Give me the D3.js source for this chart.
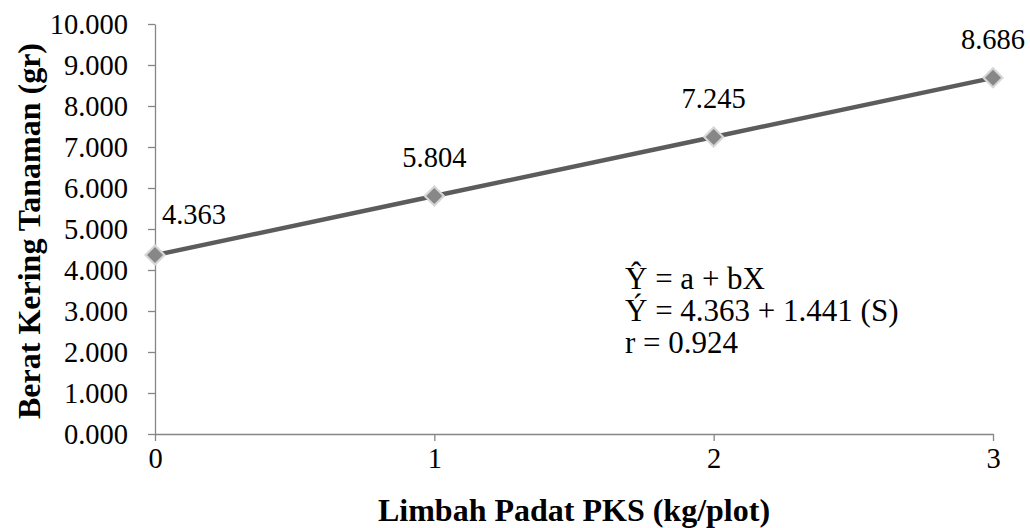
<!DOCTYPE html>
<meta charset="utf-8">
<title>Berat Kering Tanaman</title>
<style>
body { margin: 0; background: #fff; }
svg { font-family: 'Liberation Serif', 'Times New Roman', serif; }
.axis path, .axis line { stroke: #868686; stroke-width: 1.3px; }
.axis text { font-size: 28.5px; fill: #000; font-family: 'Liberation Serif', 'Times New Roman', serif; }
.title { font-size: 32px; font-weight: bold; }
.lbl { font-size: 28.5px; }
.eq { font-size: 31px; }
</style>
<svg width="1030" height="528"></svg>
<script src="https://d3js.org/d3.v7.min.js"></script>
<script>

var dosis = [0, 1, 2, 3];
var berat = [4.363, 5.804, 7.245, 8.686];
var yTicks = d3.range(0, 11);
var persamaan = ["\u0176 = a + bX", "\u00DD = 4.363 + 1.441 (S)", "r = 0.924"];

var svg = d3.select("svg"),
    margin = {top: 24, right: 37, bottom: 94, left: 155},
    width = 1030 - margin.left - margin.right,
    height = 528 - margin.top - margin.bottom;

var g = svg.append("g").attr("transform", "translate(" + margin.left + "," + margin.top + ")");

var x = d3.scaleLinear().domain([0, 3]).range([0, width]);
var y = d3.scaleLinear().domain([0, 10]).range([height, 0]);

g.append("g")
  .attr("class", "axis")
  .attr("transform", "translate(0," + height + ")")
  .call(d3.axisBottom(x).tickValues(dosis).tickFormat(d3.format("d")).tickSize(7).tickSizeOuter(0).tickPadding(7));

g.append("g")
  .attr("class", "axis")
  .call(d3.axisLeft(y).tickValues(yTicks).tickFormat(d3.format(".3f")).tickSize(7).tickSizeOuter(0).tickPadding(20));

var data = dosis.map(function(d, i) { return {x: d, y: berat[i]}; });

g.append("path")
  .datum(data)
  .attr("fill", "none")
  .attr("stroke", "#5c5c5c")
  .attr("stroke-width", 4.5)
  .attr("d", d3.line().x(function(d) { return x(d.x); }).y(function(d) { return y(d.y); }));

// diamond markers with soft edge
g.selectAll(".mk2")
  .data(data)
  .enter().append("path")
  .attr("transform", function(d) { return "translate(" + x(d.x) + "," + y(d.y) + ")"; })
  .attr("d", "M0,-11L11,0L0,11L-11,0Z")
  .attr("fill", "#d6d6d6");

g.selectAll(".mk")
  .data(data)
  .enter().append("path")
  .attr("transform", function(d) { return "translate(" + x(d.x) + "," + y(d.y) + ")"; })
  .attr("d", "M0,-8L8,0L0,8L-8,0Z")
  .attr("fill", "#878787");

g.selectAll(".lbl")
  .data(data)
  .enter().append("text")
  .attr("class", "lbl")
  .attr("text-anchor", "middle")
  .attr("x", function(d, i) { return x(d.x) + (i === 0 ? 39 : 0); })
  .attr("y", function(d, i) { return y(d.y) - (i === 0 ? 31 : 29); })
  .text(function(d) { return d3.format(".3f")(d.y); });

g.selectAll(".eq")
  .data(persamaan)
  .enter().append("text")
  .attr("class", "eq")
  .attr("x", 470)
  .attr("y", function(d, i) { return 265 + i * 32; })
  .text(function(d) { return d; });

svg.append("text")
  .attr("class", "title")
  .attr("text-anchor", "middle")
  .attr("x", 574)
  .attr("y", 521)
  .text("Limbah Padat PKS (kg/plot)");

svg.append("text")
  .attr("class", "title")
  .attr("text-anchor", "middle")
  .attr("transform", "translate(40,231) rotate(-90)")
  .text("Berat Kering Tanaman (gr)");

</script>
